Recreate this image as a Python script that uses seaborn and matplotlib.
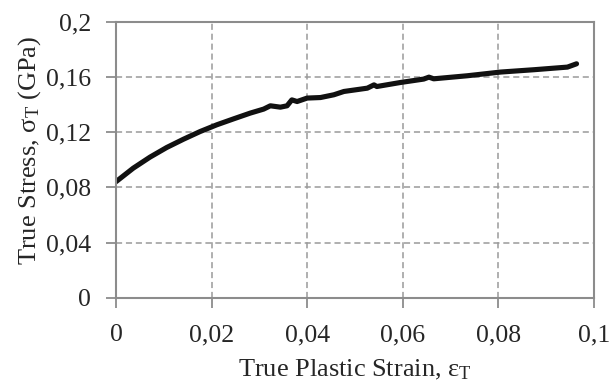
import matplotlib
matplotlib.use("Agg")
import matplotlib.pyplot as plt
import seaborn as sns
import pandas as pd
from matplotlib.ticker import FuncFormatter

# True plastic strain vs true stress
strain = [0.0, 0.0036, 0.0071, 0.0106, 0.0141, 0.0176, 0.0211, 0.0246, 0.0281,
          0.0309, 0.0323, 0.0344, 0.0358, 0.0368, 0.0379, 0.0400, 0.0428, 0.0456,
          0.0477, 0.0526, 0.0540, 0.0546, 0.0595, 0.0644, 0.0655, 0.0665, 0.0735,
          0.0805, 0.0875, 0.0945, 0.0964]
stress = [0.0842, 0.0940, 0.1020, 0.1090, 0.1150, 0.1206, 0.1255, 0.1298, 0.1340,
          0.1369, 0.1393, 0.1383, 0.1393, 0.1436, 0.1424, 0.1449, 0.1453, 0.1473,
          0.1497, 0.1521, 0.1545, 0.1533, 0.1562, 0.1587, 0.1601, 0.1589, 0.1611,
          0.1638, 0.1655, 0.1674, 0.1698]

x_ticks = [0, 0.02, 0.04, 0.06, 0.08, 0.1]
y_ticks = [0, 0.04, 0.08, 0.12, 0.16, 0.2]

sns.set_style("white")
plt.rcParams['font.family'] = ['Liberation Serif', 'DejaVu Serif']
plt.rcParams['mathtext.fontset'] = 'custom'
plt.rcParams['mathtext.rm'] = 'Liberation Serif'

df = pd.DataFrame({"strain": strain, "stress": stress})

fig = plt.figure(figsize=(6.14, 3.83), dpi=100)
ax = fig.add_axes([0.189, 0.223, 0.778, 0.719])

sns.lineplot(data=df, x="strain", y="stress", ax=ax, sort=False, estimator=None,
             color="#111111", linewidth=3.7, solid_capstyle="round")

ax.set_xlim(0, 0.1)
ax.set_ylim(0, 0.2)
ax.set_xticks(x_ticks)
ax.set_yticks(y_ticks)

comma = FuncFormatter(lambda v, p: ("%g" % round(v, 4)).replace(".", ","))
ax.xaxis.set_major_formatter(comma)
ax.yaxis.set_major_formatter(comma)

ax.grid(True, color="#9a9a9a", linestyle=(0, (4, 2.5)), linewidth=1.1)
for s in ax.spines.values():
    s.set_color("#8c8c8c")
    s.set_linewidth(1.5)
ax.tick_params(axis="both", which="major", direction="out", length=7, width=1.3,
               color="#8c8c8c", labelsize=18.5, bottom=True, left=True)
ax.tick_params(axis="x", pad=12)
ax.tick_params(axis="y", pad=11)

ax.set_xlabel("True Plastic Strain, $\\mathrm{ε_T}$", fontsize=19)
ax.set_ylabel("True Stress, $\\mathrm{σ_T}$ (GPa)", fontsize=19)
ax.xaxis.set_label_coords(0.5, -0.22)
ax.yaxis.set_label_coords(-0.152, 0.535)

fig.savefig("out.png", dpi=100)
